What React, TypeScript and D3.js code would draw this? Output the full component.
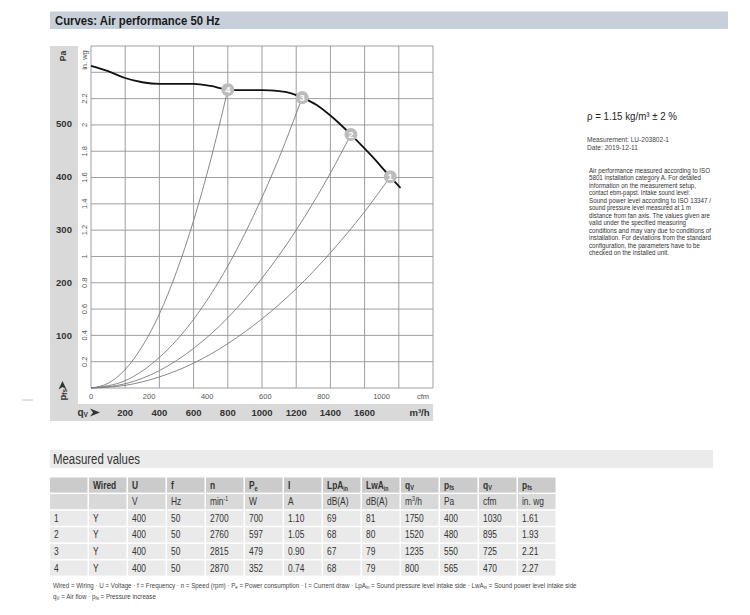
import React, { useLayoutEffect, useRef } from 'react';
import * as d3 from 'd3';

// ---------- DATA ----------
const fanCurveQ = [0, 100, 190, 300, 400, 500, 600, 700, 800, 900, 1000, 1100, 1150, 1235, 1320, 1400, 1520, 1640, 1750, 1810];
const fanCurveP = [610, 600, 588, 579, 576, 576, 576, 572, 565, 564, 564, 562, 560, 550, 536, 516, 480, 440, 400, 379];

const sys1Q = [0, 200, 400, 600, 800, 1000, 1200, 1400, 1600, 1750];
const sys1P = [0, 5, 21, 47, 84, 131, 188, 256, 334, 400];
const sys2Q = [0, 200, 400, 600, 800, 1000, 1200, 1400, 1520];
const sys2P = [0, 8, 33, 75, 133, 208, 299, 407, 480];
const sys3Q = [0, 200, 400, 600, 800, 1000, 1100, 1235];
const sys3P = [0, 14, 58, 130, 231, 361, 436, 550];
const sys4Q = [0, 100, 200, 300, 400, 500, 600, 700, 800];
const sys4P = [0, 9, 35, 79, 140, 220, 317, 432, 565];

const pointLabels = ['1', '2', '3', '4'];
const wired = ['Y', 'Y', 'Y', 'Y'];
const voltage = ['400', '400', '400', '400'];
const freq = ['50', '50', '50', '50'];
const speed = ['2700', '2760', '2815', '2870'];
const power = ['700', '597', '479', '352'];
const current = ['1.10', '1.05', '0.90', '0.74'];
const lpa = ['69', '68', '67', '68'];
const lwa = ['81', '80', '79', '79'];
const qvM3h = [1750, 1520, 1235, 800];
const pfsPa = [400, 480, 550, 565];
const qvCfm = ['1030', '895', '725', '470'];
const pfsInwg = ['1.61', '1.93', '2.21', '2.27'];

const m3hTicks = [200, 400, 600, 800, 1000, 1200, 1400, 1600];
const cfmTicks = [0, 200, 400, 600, 800, 1000];
const paTicks = [100, 200, 300, 400, 500];
const inwgTicks = [0.2, 0.4, 0.6, 0.8, 1.0, 1.2, 1.4, 1.6, 1.8, 2.0, 2.2];
const gridM3h = [0, 200, 400, 600, 800, 1000, 1200, 1400, 1600, 1800, 2000];
const gridInwg = [0, 0.2, 0.4, 0.6, 0.8, 1.0, 1.2, 1.4, 1.6, 1.8, 2.0, 2.2, 2.4, 2.6];

const titleText = 'Curves: Air performance 50 Hz';
const densityText = 'ρ = 1.15 kg/m³ ± 2 %';
const measurementText = 'Measurement: LU-203802-1';
const dateText = 'Date: 2019-12-11';
const noteLines = [
  'Air performance measured according to ISO',
  '5801 installation category A. For detailed',
  'information on the measurement setup,',
  'contact ebm-papst. Intake sound level:',
  'Sound power level according to ISO 13347 /',
  'sound pressure level measured at 1 m',
  'distance from fan axis. The values given are',
  'valid under the specified measuring',
  'conditions and may vary due to conditions of',
  'installation. For deviations from the standard',
  'configuration, the parameters have to be',
  'checked on the installed unit.',
];

// ---------- LAYOUT ----------
const noteWidths = [121, 112, 107, 101, 122, 102, 121, 97, 122, 122, 111, 80];
const PA_PER_INWG = 249.089;
const M3H_PER_CFM = 1.69901;
const PL = 91, PR = 433, PT = 46, PB = 388;
const FONT = '"Liberation Sans", Arial, Helvetica, sans-serif';

const x = d3.scaleLinear().domain([0, 2000]).range([PL, PR]);
const y = d3.scaleLinear().domain([0, 2.6 * PA_PER_INWG]).range([PB, PT]);

const lineGen = d3
  .line<[number, number]>()
  .x((d) => x(d[0]))
  .y((d) => y(d[1]))
  .curve(d3.curveMonotoneX);

const zip = (a: number[], b: number[]) => a.map((v, i) => [v, b[i]] as [number, number]);
const systemCurves = [zip(sys1Q, sys1P), zip(sys2Q, sys2P), zip(sys3Q, sys3P), zip(sys4Q, sys4P)];
const fmtInwg = d3.format('~g');

const TX = 50, COLW = 39, ROWT = 477.5, ROWH = 16.6;

export default function App() {
  const foot1 = useRef<SVGTextElement>(null);
  const foot2 = useRef<SVGTextElement>(null);

  useLayoutEffect(() => {
    const fit = (el: SVGTextElement | null, tx: number, ty: number, target: number) => {
      if (!el) return;
      const w = el.getBBox().width || target;
      el.setAttribute('transform', `translate(${tx},${ty}) scale(${target / w},1)`);
    };
    fit(foot1.current, 53, 588, 524);
    fit(foot2.current, 53, 599, 103);
  }, []);

  const headerRow1: React.ReactNode[] = [
    '',
    'Wired',
    'U',
    'f',
    'n',
    <>P<tspan fontSize="7" dy="2">e</tspan></>,
    'I',
    <>LpA<tspan fontSize="6.5" dy="2">in</tspan></>,
    <>LwA<tspan fontSize="6.5" dy="2">in</tspan></>,
    <>q<tspan fontSize="7" dy="1.5">V</tspan></>,
    <>p<tspan fontSize="7" dy="1.5">fs</tspan></>,
    <>q<tspan fontSize="7" dy="1.5">V</tspan></>,
    <>p<tspan fontSize="7" dy="1.5">fs</tspan></>,
  ];
  const headerRow2: React.ReactNode[] = [
    '',
    '',
    'V',
    'Hz',
    <>min<tspan fontSize="6.5" dy="-4">-1</tspan></>,
    'W',
    'A',
    'dB(A)',
    'dB(A)',
    <>m<tspan fontSize="6.5" dy="-4">3</tspan><tspan dy="4">/h</tspan></>,
    'Pa',
    'cfm',
    'in. wg',
  ];
  const dataRows = pointLabels.map((p, i) => [
    p,
    wired[i],
    voltage[i],
    freq[i],
    speed[i],
    power[i],
    current[i],
    lpa[i],
    lwa[i],
    String(qvM3h[i]),
    String(pfsPa[i]),
    qvCfm[i],
    pfsInwg[i],
  ]);
  const allRows: { cells: React.ReactNode[]; fill: string; bold: boolean }[] = [
    { cells: headerRow1, fill: '#cbcbcb', bold: true },
    { cells: headerRow2, fill: '#d9d9d9', bold: false },
    ...dataRows.map((r) => ({ cells: r as React.ReactNode[], fill: '#eaeaea', bold: false })),
  ];

  return (
    <svg
      width={750}
      height={615}
      style={{ position: 'absolute', left: 0, top: 0, background: '#fff' }}
      fontFamily={FONT}
    >
      {/* Title band */}
      <rect x={50} y={11.5} width={678} height={17.5} fill="#c7d0da" />
      <text x={55} y={25} fontSize={13.5} fontWeight="bold" fill="#1a1a1a" textLength={165} lengthAdjust="spacingAndGlyphs">
        {titleText}
      </text>

      {/* Axis label bands */}
      <rect x={50} y={PT} width={28} height={421 - PT} fill="#d9d9d9" />
      <rect x={50} y={404} width={PR - 50} height={17} fill="#d9d9d9" />

      {/* Grid */}
      <g stroke="#9e9e9e" strokeWidth={1}>
        {gridM3h.map((g) => (
          <line key={'gx' + g} x1={x(g)} x2={x(g)} y1={PT} y2={PB} />
        ))}
        {gridInwg.map((g) => (
          <line key={'gy' + g} x1={PL} x2={PR} y1={y(g * PA_PER_INWG)} y2={y(g * PA_PER_INWG)} />
        ))}
      </g>

      {/* System curves */}
      {systemCurves.map((c, i) => (
        <path key={'sys' + i} d={lineGen(c) || ''} fill="none" stroke="#7a7a7a" strokeWidth={0.9} />
      ))}

      {/* Fan curve */}
      <path d={lineGen(zip(fanCurveQ, fanCurveP)) || ''} fill="none" stroke="#111" strokeWidth={1.8} />

      {/* Operating point markers */}
      {pointLabels.map((p, i) => (
        <g key={'m' + p}>
          <circle cx={x(qvM3h[i])} cy={y(pfsPa[i])} r={6.5} fill="#bcbcbc" />
          <text x={x(qvM3h[i])} y={y(pfsPa[i])} dy="0.36em" textAnchor="middle" fontSize={9.5} fontWeight="bold" fill="#fff">
            {p}
          </text>
        </g>
      ))}

      {/* Pa labels */}
      {paTicks.map((t) => (
        <text key={'pa' + t} x={64} y={y(t)} dy="0.36em" textAnchor="middle" fontSize={9.5} fontWeight="bold" fill="#333">
          {t}
        </text>
      ))}
      <text transform="translate(63,56) rotate(-90)" dy="0.36em" textAnchor="middle" fontSize={8.5} fontWeight="bold" fill="#333">
        Pa
      </text>

      {/* in. wg labels */}
      {inwgTicks.map((t) => (
        <text
          key={'iw' + t}
          transform={`translate(84,${y(t * PA_PER_INWG)}) rotate(-90)`}
          dy="0.36em"
          textAnchor="middle"
          fontSize={7.5}
          fill="#555"
        >
          {fmtInwg(t)}
        </text>
      ))}
      <text transform="translate(84,60) rotate(-90)" dy="0.36em" textAnchor="middle" fontSize={7.5} fill="#555">
        in. wg
      </text>

      {/* cfm labels */}
      {cfmTicks.map((t) => (
        <text key={'cfm' + t} x={x(t * M3H_PER_CFM)} y={398.5} textAnchor="middle" fontSize={7.5} fill="#555">
          {t}
        </text>
      ))}
      <text x={423} y={398.5} textAnchor="middle" fontSize={7.5} fill="#555">
        cfm
      </text>

      {/* m3/h labels */}
      {m3hTicks.map((t) => (
        <text key={'m3' + t} x={x(t)} y={412.5} dy="0.36em" textAnchor="middle" fontSize={9.5} fontWeight="bold" fill="#333">
          {t}
        </text>
      ))}
      <text x={419.5} y={412.5} dy="0.36em" textAnchor="middle" fontSize={9.5} fontWeight="bold" fill="#333">
        m³/h
      </text>

      {/* qv arrow label */}
      <text x={77.5} y={415.5} fontSize={10} fontWeight="bold" fill="#333">
        q<tspan fontSize={6.5} dy={1.5}>V</tspan>
      </text>
      <path d="M90,408.5 L100,412.5 L90,416.5 L93,412.5 Z" fill="#333" />

      {/* pfs arrow label */}
      <text transform="translate(65.5,400.5) rotate(-90)" fontSize={9.5} fontWeight="bold" fill="#333">
        p<tspan fontSize={6.5} dy={1.5}>fs</tspan>
      </text>
      <path d="M58.5,389.5 L62.5,381 L66.5,389.5 L62.5,387 Z" fill="#333" />

      {/* stray mark */}
      <line x1={22} x2={33} y1={400} y2={400} stroke="#c4c4c4" strokeWidth={1} />

      {/* Right info block */}
      <text x={587} y={119.5} fontSize={10.5} fill="#222" textLength={90} lengthAdjust="spacingAndGlyphs">
        {densityText}
      </text>
      <text x={587} y={141.8} fontSize={6.8} fill="#444" textLength={82} lengthAdjust="spacingAndGlyphs">
        {measurementText}
      </text>
      <text x={587} y={149.8} fontSize={6.8} fill="#444" textLength={51} lengthAdjust="spacingAndGlyphs">
        {dateText}
      </text>
      {noteLines.map((l, i) => (
        <text
          key={'n' + i}
          x={589}
          y={172.7 + i * 7.52}
          fontSize={7.3}
          fill="#333"
          textLength={noteWidths[i]}
          lengthAdjust="spacingAndGlyphs"
        >
          {l}
        </text>
      ))}

      {/* Measured values header */}
      <rect x={50} y={450} width={663} height={18} fill="#ebebeb" />
      <text x={53} y={464} fontSize={14} fill="#333" textLength={87} lengthAdjust="spacingAndGlyphs">
        Measured values
      </text>

      {/* Table */}
      {allRows.map((row, r) => (
        <g key={'row' + r}>
          {row.cells.map((c, ci) => (
            <g key={'c' + ci}>
              <rect x={TX + ci * COLW} y={ROWT + r * ROWH} width={COLW - 1.5} height={ROWH - 1.5} fill={row.fill} />
              <text
                transform={`translate(${TX + ci * COLW + 4},${ROWT + r * ROWH + 11}) scale(0.8,1)`}
                fontSize={10.5}
                fontWeight={row.bold ? 'bold' : 'normal'}
                fill="#333"
              >
                {c}
              </text>
            </g>
          ))}
        </g>
      ))}

      {/* Footer */}
      <text ref={foot1} transform="translate(53,588)" fontSize={7} fill="#444">
        Wired = Wiring · U = Voltage · f = Frequency · n = Speed (rpm) · P
        <tspan fontSize={5} baselineShift="-1.5">e</tspan>
        {' = Power consumption · I = Current draw · LpA'}
        <tspan fontSize={5} baselineShift="-1.5">in</tspan>
        {' = Sound pressure level intake side · LwA'}
        <tspan fontSize={5} baselineShift="-1.5">in</tspan>
        {' = Sound power level intake side'}
      </text>
      <text ref={foot2} transform="translate(53,599)" fontSize={7} fill="#444">
        q<tspan fontSize={5} baselineShift="-1.5">V</tspan>
        {' = Air flow · p'}
        <tspan fontSize={5} baselineShift="-1.5">fs</tspan>
        {' = Pressure increase'}
      </text>
    </svg>
  );
}
